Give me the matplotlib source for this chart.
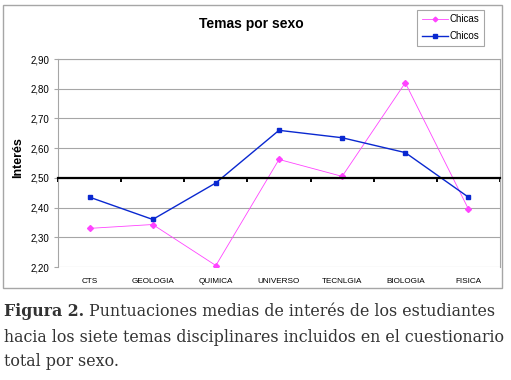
import matplotlib
matplotlib.use('Agg')
import matplotlib.pyplot as plt
from matplotlib.patches import Rectangle

# data
temas = ['CTS', 'GEOLOGIA', 'QUIMICA', 'UNIVERSO', 'TECNLGIA', 'BIOLOGIA', 'FISICA']
chicas = [2.33, 2.343, 2.205, 2.562, 2.505, 2.82, 2.395]
chicos = [2.435, 2.36, 2.483, 2.66, 2.635, 2.585, 2.435]
yticks = [2.20, 2.30, 2.40, 2.50, 2.60, 2.70, 2.80, 2.90]
ytick_labels = ['2,20', '2,30', '2,40', '2,50', '2,60', '2,70', '2,80', '2,90']

caption_bold = 'Figura 2.'
caption_lines = [' Puntuaciones medias de interés de los estudiantes',
                 'hacia los siete temas disciplinares incluidos en el cuestionario',
                 'total por sexo.']

plt.rcParams['font.family'] = ['Liberation Sans', 'DejaVu Sans']

fig = plt.figure(figsize=(5.11, 3.80), dpi=100)
ax = fig.add_axes([58 / 511, 113 / 380, 442 / 511, 208 / 380])

x = list(range(len(temas)))
gris = '#a6a6a6'

ax.plot(x, chicas, color='#ff44ff', lw=0.6, marker='D', ms=3, label='Chicas')
ax.plot(x, chicos, color='#0a28d0', lw=1.0, marker='s', ms=3.5, label='Chicos')

ax.set_xlim(-0.5, len(temas) - 0.5)
ax.set_ylim(yticks[0], yticks[-1])
ax.set_yticks(yticks, ytick_labels, fontsize=7)
ax.yaxis.grid(True, color=gris, lw=0.8)
ax.set_axisbelow(True)
ax.tick_params(axis='y', length=3, color=gris, pad=3)

for s in ['left', 'right', 'top']:
    ax.spines[s].set_color(gris)
    ax.spines[s].set_linewidth(0.8)

# category axis crosses at 2,50
ax.spines['bottom'].set_position(('data', 2.5))
ax.spines['bottom'].set_linewidth(1.6)
ax.spines['bottom'].set_color('black')
ax.set_xticks([i - 0.5 for i in range(len(temas) + 1)])
ax.set_xticklabels([])
ax.tick_params(axis='x', direction='out', length=3, width=1.4, color='black')

sec = ax.secondary_xaxis('bottom')
sec.set_xticks(x, temas, fontsize=5.9)
sec.tick_params(length=0, pad=8)
sec.spines['bottom'].set_visible(False)

fig.text(251 / 511, 1 - 24 / 380, 'Temas por sexo', ha='center', va='center',
         fontsize=10, fontweight='bold')
fig.text(18 / 511, 1 - 158 / 380, 'Interés', ha='center', va='center',
         rotation=90, fontsize=9, fontweight='bold')

leg = fig.legend(loc='upper right', bbox_to_anchor=(484 / 511, 1 - 10 / 380),
                 fontsize=7, fancybox=False, edgecolor=gris, framealpha=1,
                 handlelength=2.7, handletextpad=0.2, borderpad=0.45,
                 labelspacing=0.7, borderaxespad=0, markerscale=0.8)
leg.get_frame().set_linewidth(0.8)

fig.patches.append(Rectangle((3 / 511, 1 - 288 / 380), 499 / 511, 283 / 380,
                             transform=fig.transFigure, fill=False,
                             edgecolor=gris, lw=1.0))

# caption
cap_font = dict(family='DejaVu Serif', color='#333333')
r = fig.canvas.get_renderer()
probe = fig.text(0, 0, caption_lines[1], fontsize=10, **cap_font)
w = probe.get_window_extent(r).width
probe.remove()
size = 10 * 503 / w

t0 = fig.text(4 / 511, 1 - 312 / 380, caption_bold, fontsize=size,
              fontweight='bold', va='center', **cap_font)
bw = t0.get_window_extent(r).width
fig.text((4 + bw) / 511, 1 - 312 / 380, caption_lines[0], fontsize=size,
         va='center', **cap_font)
fig.text(4 / 511, 1 - 337 / 380, caption_lines[1], fontsize=size, va='center', **cap_font)
fig.text(4 / 511, 1 - 361 / 380, caption_lines[2], fontsize=size, va='center', **cap_font)

fig.savefig('out.png', dpi=100)
